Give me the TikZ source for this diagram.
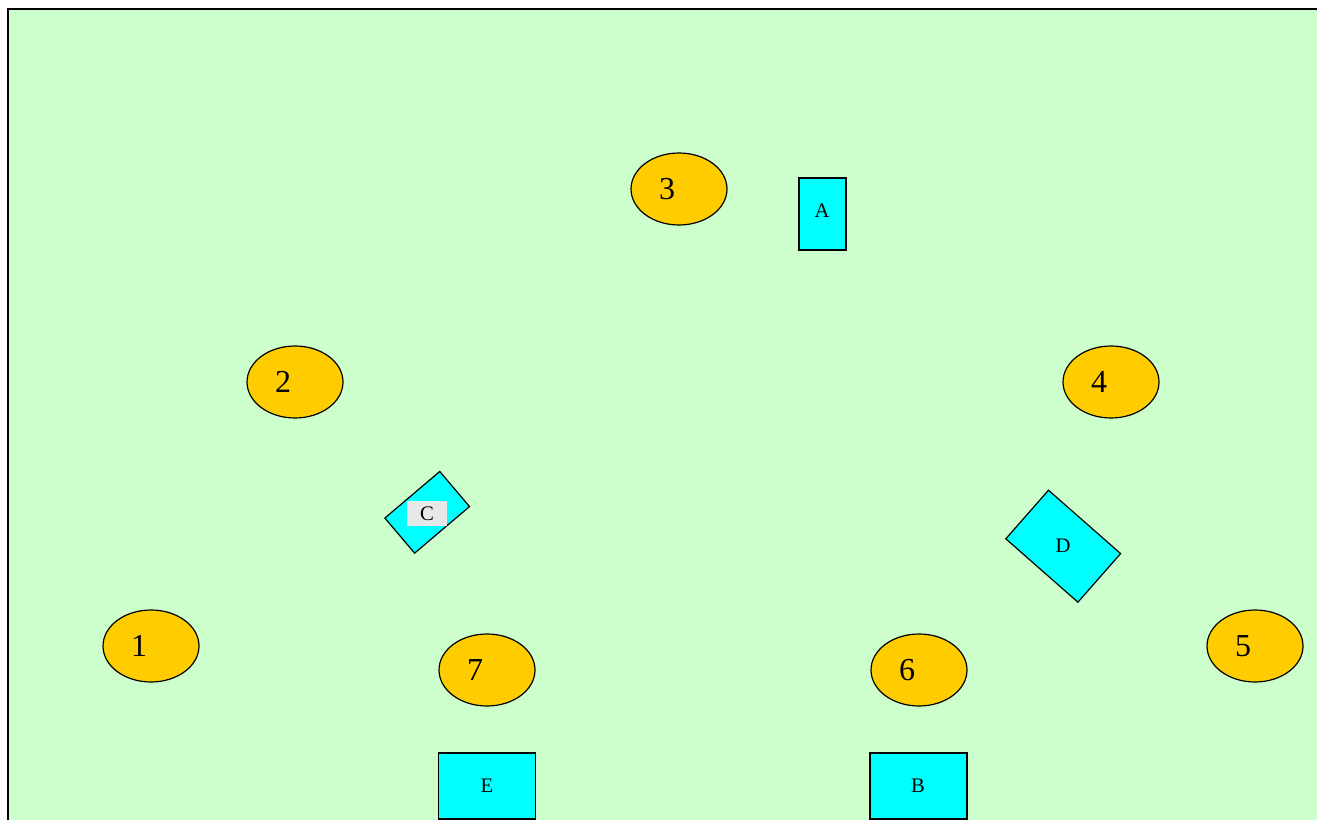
\documentclass[tikz,border=0pt]{standalone}
\usepackage{fontspec}
\setmainfont{Liberation Serif}
\usetikzlibrary{shapes.geometric}
\definecolor{bggreen}{HTML}{CCFFCC}
\definecolor{ellfill}{HTML}{FFCC00}
\definecolor{boxfill}{HTML}{00FFFF}
\definecolor{lblgray}{HTML}{E8E8E8}
\tikzset{
  ell/.style={ellipse, draw=black, line width=0.9pt, fill=ellfill, minimum width=72pt, minimum height=54pt, inner sep=0pt},
  num/.style={inner sep=0pt, font=\fontsize{24}{24}\selectfont},
  boxn/.style={rectangle, draw=black, line width=0.9pt, fill=boxfill, inner sep=0pt},
  let/.style={inner sep=0pt, font=\fontsize{15.5}{16}\selectfont},
}
\begin{document}
\begin{tikzpicture}[x=0.75pt,y=-0.75pt]
\useasboundingbox (0,0) rectangle (1317,820);
\begin{scope}
\clip (0,0) rectangle (1317,820);
\draw[fill=bggreen, draw=black, line width=1.5pt] (8,9.5) rectangle (1340,840);
\end{scope}
% ellipses
\node[ell] (e1) at (151,646) {};
\node[ell] (e2) at (295,382) {};
\node[ell] (e3) at (679,189) {};
\node[ell] (e4) at (1111,382) {};
\node[ell] (e5) at (1255,646) {};
\node[ell] (e6) at (919,670) {};
\node[ell] (e7) at (487,670) {};
\node[num] (n1) at ([xshift=-9pt]e1.center) {1};
\node[num] (n2) at ([xshift=-9pt]e2.center) {2};
\node[num] (n3) at ([xshift=-9pt]e3.center) {3};
\node[num] (n4) at ([xshift=-9pt]e4.center) {4};
\node[num] (n5) at ([xshift=-9pt]e5.center) {5};
\node[num] (n6) at ([xshift=-9pt]e6.center) {6};
\node[num] (n7) at ([xshift=-9pt]e7.center) {7};
% boxes
\node[boxn, minimum width=35.25pt, minimum height=54pt] (bA) at (822.5,214) {};
\node[let] (lA) at (822,211) {A};
\begin{scope}
\clip (0,0) rectangle (1317,820);
\node[boxn, minimum width=72.75pt, minimum height=49.5pt] (bE) at (487,786) {};
\node[boxn, minimum width=72.75pt, minimum height=49.5pt] (bB) at (918.5,786) {};
\end{scope}
\node[let] (lE) at (487,786) {E};
\node[let] (lB) at (918,786) {B};
\node[boxn, minimum width=54pt, minimum height=34.5pt, rotate=40.3] (bC) at (427.2,512.3) {};
\node[let, fill=lblgray, minimum width=30pt, minimum height=18.5pt] (lC) at (427,513.3) {C};
\node[boxn, minimum width=72pt, minimum height=48.5pt, rotate=-41.3] (bD) at (1063.2,546.2) {};
\node[let] (lD) at (1063,546) {D};
\end{tikzpicture}
\end{document}
